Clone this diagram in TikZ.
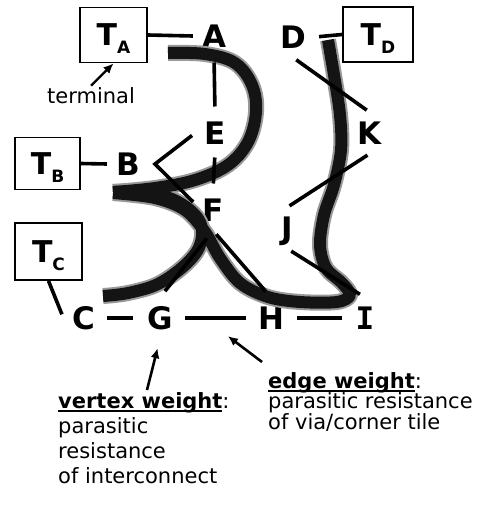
\documentclass[tikz,border=0pt]{standalone}
\usepackage{fontspec}
\setmainfont{DejaVu Sans}
\newfontfamily\slabfont{DejaVu Sans Mono}
\usetikzlibrary{arrows.meta}
% lowered subscript inside a terminal box
\newcommand\tsub[1]{\raisebox{-8pt}{\fontsize{17}{17}\selectfont #1}}
% bold text with a heavy underline
\newcommand\ulbold[1]{\setbox0\hbox{\bfseries #1}\rlap{\rule[-4pt]{\wd0}{2.2pt}}\box0}
% fixed baseline distance regardless of glyph heights
\newcommand\tightlines{\lineskiplimit=-30pt\relax}

\begin{document}
\begin{tikzpicture}[x=1pt,y=-1pt,
  vtx/.style={font=\fontsize{31}{31}\bfseries\selectfont, inner sep=9pt,
              text height=22.6pt, text depth=0pt},
  tbox/.style={draw, line width=1.8pt, font=\fontsize{30}{30}\bfseries\selectfont,
               text height=30pt, text depth=8pt, inner sep=0pt,
               minimum width=67pt, minimum height=55pt},
  edge/.style={line width=3.6pt},
  pointer/.style={line width=2.6pt, -{Latex[length=10pt,width=9pt]}},
  txt/.style={inner sep=0pt, align=left},
]
\fill[white] (0,0) rectangle (484,508);
\useasboundingbox (0,0) rectangle (484,508);

% terminals
\node[tbox] (TA) at (113.5,35) {T\tsub{A}};
\node[tbox, minimum width=65pt, minimum height=52pt] (TB) at (47.5,163.5) {T\tsub{B}};
\node[tbox, minimum height=57pt] (TC) at (48.5,251.5) {T\tsub{C}};
\node[tbox, minimum width=70pt] (TD) at (378,34.5) {T\tsub{D}};

% graph vertices
\node[vtx] (A) at (214,36) {A};
\node[vtx] (D) at (293,37) {D};
\node[vtx] (E) at (215,133) {E};
\node[vtx] (K) at (370,133) {K};
\node[vtx] (B) at (128,164) {B};
\node[vtx] (F) at (213,210) {F};
\node[vtx] (J) at (287,228) {J};
\node[vtx] (C) at (84,318) {C};
\node[vtx] (G) at (160,318) {G};
\node[vtx] (H) at (271,318) {H};
\node[vtx, font=\fontsize{31}{31}\slabfont\bfseries\selectfont] (I) at (365,318) {I};

% routed wires (soft edge, dark core)
\foreach \w/\c in {16/black!40, 12/black!92}{
  \draw[line width=\w pt, \c, line join=round]
    plot[smooth, tension=0.6] coordinates {(168,53) (205,54) (235,63) (252,85) (256,112)
      (248,142) (228,165) (195,180) (155,188) (113,192)};
  \draw[line width=\w pt, \c, line join=round]
    plot[smooth, tension=0.6] coordinates {(113,192) (150,193) (180,203) (200,222)
      (200,245) (185,265) (158,284) (128,293) (103,296)};
  \draw[line width=\w pt, \c, line join=round]
    plot[smooth, tension=0.55] coordinates {(328,40) (334,75) (340,115) (341,150) (334,185)
      (324,215) (320,245) (326,268) (342,283) (350,295) (337,302) (300,302) (268,297)
      (240,283) (220,258) (205,232) (185,210) (155,198) (113,193)};
}

% graph edges
\draw[edge] (TA.east) -- (A.west);
\draw[edge, shorten <=4pt] (D.east) -- (TD.west);
\draw[edge] (TB.east) -- (B.west);
\draw[edge, shorten >=4pt] (TC.south) -- (C.west);
\draw[edge, shorten <=2pt, shorten >=5pt] (C.east) -- (G.west);
\draw[edge, shorten <=3pt, shorten >=3pt] (G.east) -- coordinate[pos=0.33] (gh) (H.west);
\draw[edge, shorten <=4pt, shorten >=4pt] (H.east) -- (I.west);
\draw[edge, shorten <=6pt, shorten >=6pt] (A.south) -- (E.north);
\draw[edge, shorten <=4pt, shorten >=6pt] (E.south) -- (F.north);
\draw[edge, shorten <=4pt, shorten >=4pt] (D.south) -- (K.north);
\draw[edge, shorten <=3pt, shorten >=3pt] (K.south) -- (J.north);
\draw[edge, shorten <=5pt, shorten >=6pt] (J.south) -- (I.north);
\draw[edge, shorten <=4pt, line join=miter] (E.west) -- ([xshift=6pt]B.east) -- ([yshift=8pt]F.west);
\draw[edge, shorten <=10pt, shorten >=8pt] (F.south) -- (G.north);
\draw[edge, shorten <=5pt, shorten >=8pt] (F.south) -- (H.north);

% annotations
\node[txt, font=\fontsize{21}{21}\selectfont] (term) at (91,96) {terminal};
\draw[pointer, line width=2.3pt] ([yshift=2pt]term.north) -- (TA.south);

\node[txt, anchor=north west, font={\fontsize{21}{25}\selectfont\tightlines}]
  (vw) at (58,392) {\ulbold{vertex weight}:\\parasitic\\resistance\\of interconnect};
\draw[pointer, shorten >=10pt] ([xshift=89pt,yshift=2pt]vw.north west) -- (G.south);

\node[txt, anchor=north west, font={\fontsize{21}{20.5}\selectfont\tightlines}]
  (ew) at (268,372) {\ulbold{edge weight}:\\parasitic resistance\\of via/corner tile};
\draw[pointer, shorten >=30pt] ([xshift=-6pt,yshift=10pt]ew.north west) -- (gh);
\end{tikzpicture}
\end{document}
